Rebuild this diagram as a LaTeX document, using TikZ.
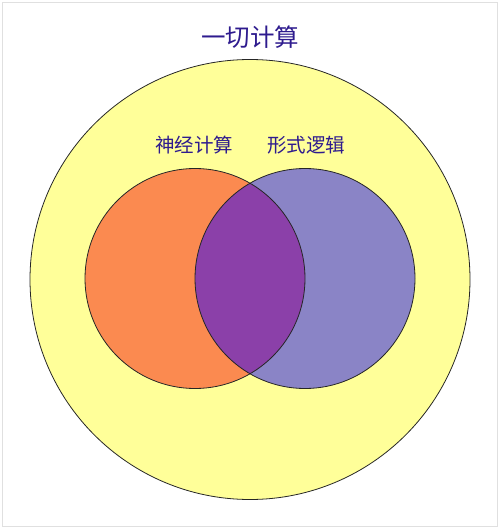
\documentclass[tikz,border=0pt]{standalone}
\usepackage{fontspec}
\newfontfamily\cjk{Noto Sans CJK SC}
\definecolor{allyellow}{HTML}{FFFF99}
\definecolor{neurorange}{HTML}{FB8A50}
\definecolor{logicblue}{HTML}{8A84C6}
\definecolor{lenspurple}{HTML}{8B40A9}
\definecolor{labelblue}{HTML}{2E1B8E}
\begin{document}
\begin{tikzpicture}[x=1pt,y=-1pt]
		\tikzstyle{ring}=[draw=black!85,line width=0.8pt]
		\tikzstyle{label}=[text=labelblue,inner sep=0pt,font=\cjk]
		
		\useasboundingbox (0,0) rectangle (500,529);
		\draw[black!12,line width=1pt] (2.5,2.5) rectangle (497.5,526.5);
		
		\coordinate (c0) at (250,279.5);
		\coordinate (c1) at (195,278.5);
		\coordinate (c2) at (305,278.5);
		
		\fill[allyellow] (c0) circle (220);
		\fill[neurorange] (c1) circle (110);
		\fill[logicblue] (c2) circle (110);
		\begin{scope}
			\clip (c1) circle (110);
			\fill[lenspurple] (c2) circle (110);
		\end{scope}
		\draw[ring] (c0) circle (220);
		\draw[ring] (c1) circle (110);
		\draw[ring] (c2) circle (110);
		
		\node[label,font=\cjk\fontsize{24.5}{26}\selectfont] (all) at (250,37) {一切计算};
		\node[label,font=\cjk\fontsize{19.5}{21}\selectfont] (nn) at (194,145) {神经计算};
		\node[label,font=\cjk\fontsize{19.5}{21}\selectfont] (fl) at (306,145) {形式逻辑};
	\end{tikzpicture}
\end{document}
